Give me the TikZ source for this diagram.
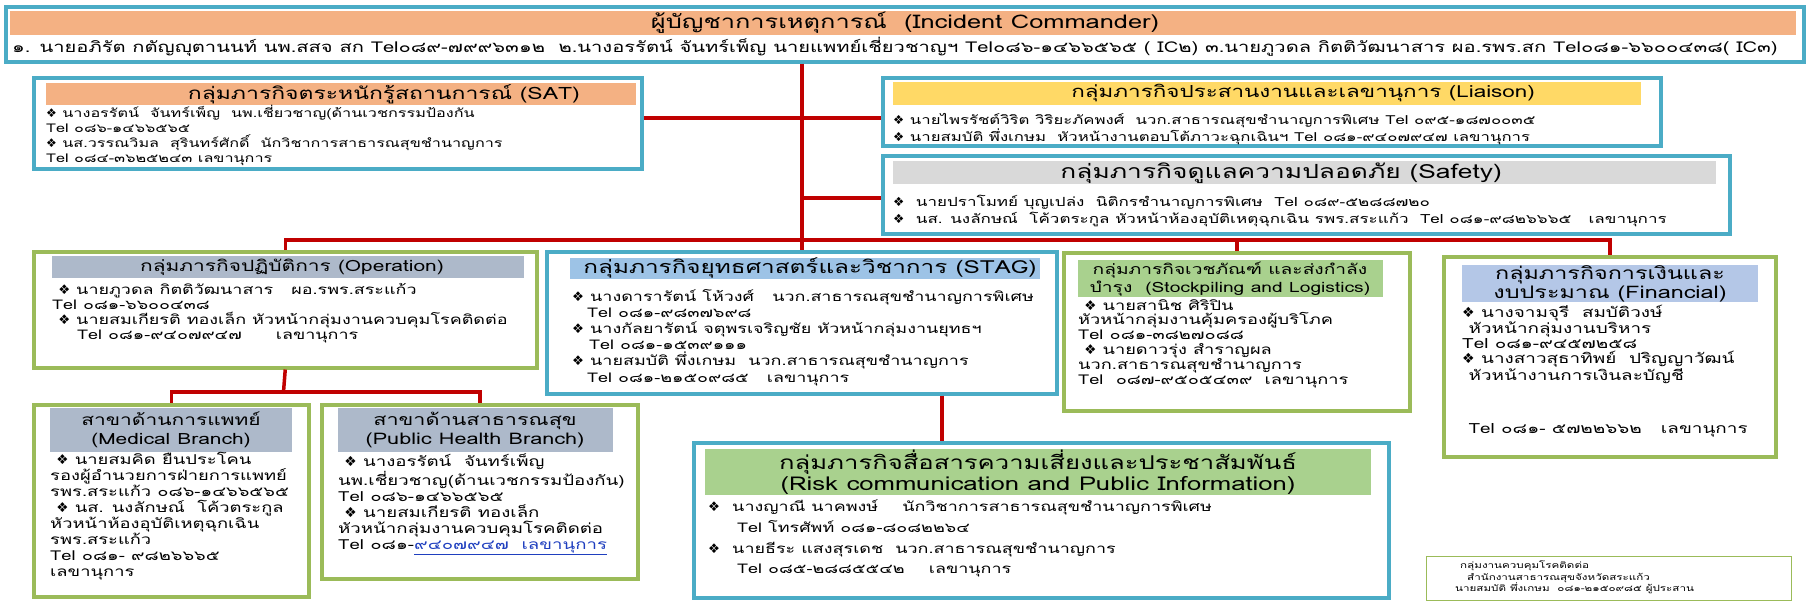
\documentclass[tikz,border=0pt]{standalone}
\usepackage{fontspec}
\newfontfamily\thaifont[Script=Thai,FakeStretch=1.35]{Loma}
\newfontfamily\symfont{DejaVu Sans}
\newcommand{\bul}{{\symfont\char"2756}}
\newcommand{\fs}[2]{\thaifont\fontsize{#1}{#2}\selectfont}
\definecolor{frameteal}{HTML}{4BACC6}
\definecolor{framegreen}{HTML}{9BBB59}
\definecolor{linkred}{HTML}{C00000}
\definecolor{bandorange}{HTML}{F4B183}
\definecolor{bandyellow}{HTML}{FFD966}
\definecolor{bandgray}{HTML}{D9D9D9}
\definecolor{bandslate}{HTML}{ADB9CA}
\definecolor{bandsky}{HTML}{9DC3E6}
\definecolor{bandblue}{HTML}{B4C7E7}
\definecolor{bandgreen}{HTML}{A9D18E}
\definecolor{linkblue}{HTML}{1F3FBF}
\begin{document}
\begin{tikzpicture}[x=1pt,y=-1pt,
  frameT/.style={draw=frameteal,line width=3.5pt,fill=white,anchor=north west,inner sep=0pt},
  frameG/.style={draw=framegreen,line width=3.5pt,fill=white,anchor=north west,inner sep=0pt},
  frameN/.style={draw=framegreen,line width=1pt,fill=white,anchor=north west,inner sep=0pt},
  band/.style={anchor=north west,inner sep=0pt},
  title/.style={inner sep=0pt,align=center,font=\fs{18.5}{21}},
  title2/.style={inner sep=0pt,align=center,font=\fs{16.5}{19}},
  body/.style={anchor=north west,inner sep=0pt,align=left,font=\fs{12.4}{15}},
  link/.style={draw=linkred,line width=3.5pt}]
\fill[white] (0,0) rectangle (1806,606);
\useasboundingbox (0,0) rectangle (1806,606);

\node[frameT,minimum width=1798,minimum height=55] (ic) at (4,5) {};
\node[band,fill=bandorange,minimum width=1786,minimum height=24] (icband) at (10,11) {};
\node[title,font=\fs{18.8}{22}] (ictitle) at (905,23) {ผู้บัญชาการเหตุการณ์ \ (Incident Commander)};
\node[body,anchor=west,font=\fs{14.9}{16}] (ictext) at (12,47) {๑. นายอภิรัต กตัญญุตานนท์ นพ.สสจ สก Tel๐๘๙-๗๙๙๖๓๑๒ \ ๒.นางอรรัตน์ จันทร์เพ็ญ นายแพทย์เชี่ยวชาญฯ Tel๐๘๖-๑๔๖๖๕๖๕ ( IC๒) ๓.นายภูวดล กิตติวัฒนาสาร ผอ.รพร.สก Tel๐๘๑-๖๖๐๐๔๓๘( IC๓)};

\node[frameT,minimum width=608,minimum height=91] (sat) at (32,76) {};
\node[band,fill=bandorange,minimum width=590,minimum height=22] (satband) at (46,83) {};
\node[title,anchor=east,font=\fs{17}{20}] (sattitle) at (580,94) {กลุ่มภารกิจตระหนักรู้สถานการณ์ (SAT)};
\node[body,font=\fs{12}{15}] (sattext) at (46,105) {\bul\ นางอรรัตน์ \ จันทร์เพ็ญ \ นพ.เชี่ยวชาญ(ด้านเวชกรรมป้องกัน\\
Tel ๐๘๖-๑๔๖๖๕๖๕\\
\bul\ นส.วรรณวิมล \ สุรินทร์ศักดิ์ \ นักวิชาการสาธารณสุขชำนาญการ\\
Tel ๐๘๔-๓๖๒๕๒๔๓ เลขานุการ};

\node[frameT,minimum width=778,minimum height=68] (liai) at (881,76) {};
\node[band,fill=bandyellow,minimum width=748,minimum height=23] (liaiband) at (893,82) {};
\node[title,anchor=east,font=\fs{16.6}{20}] (liaititle) at (1535,93) {กลุ่มภารกิจประสานงานและเลขานุการ (Liaison)};
\node[body] (liaitext) at (893,113) {\bul\ นายไพรรัชต์วิริต วิริยะภัคพงศ์ \ นวก.สาธารณสุขชำนาญการพิเศษ Tel ๐๙๕-๑๘๗๐๐๓๕\\
\bul\ นายสมบัติ พึ่งเกษม \ หัวหน้างานตอบโต้ภาวะฉุกเฉินฯ Tel ๐๘๑-๙๔๐๗๙๔๗ เลขานุการ};

\node[frameT,minimum width=847,minimum height=78] (safe) at (881,154) {};
\node[band,fill=bandgray,minimum width=823,minimum height=23] (safeband) at (893,161) {};
\node[title,anchor=east,font=\fs{19.5}{21}] (safetitle) at (1502,173) {กลุ่มภารกิจดูแลความปลอดภัย (Safety)};
\node[body,font=\fs{12.6}{17}] (safetext) at (893,195) {\bul\ \ นายปราโมทย์ บุญเปล่ง \ นิติกรชำนาญการพิเศษ \ Tel ๐๘๙-๕๒๘๘๗๒๐\\
\bul\ \ นส. นงลักษณ์ \ โค้วตระกูล หัวหน้าห้องอุบัติเหตุฉุกเฉิน รพร.สระแก้ว \ Tel ๐๘๑-๙๘๒๖๖๖๕ \ \ เลขานุการ};

\node[frameG,minimum width=503,minimum height=116] (op) at (32,250) {};
\node[band,fill=bandslate,minimum width=472,minimum height=22] (opband) at (52,256) {};
\node[title,font=\fs{15.5}{18}] (optitle) at (292,267) {กลุ่มภารกิจปฏิบัติการ (Operation)};
\node[body,font=\fs{13.3}{15}] (optext) at (52,283) {\ \bul\ นายภูวดล กิตติวัฒนาสาร \ \ ผอ.รพร.สระแก้ว\\
Tel ๐๘๑-๖๖๐๐๔๓๘\\
\ \bul\ นายสมเกียรติ ทองเล็ก หัวหน้ากลุ่มงานควบคุมโรคติดต่อ\\
\hspace*{25pt}Tel ๐๘๑-๙๔๐๗๙๔๗ \hspace*{22pt} เลขานุการ};

\node[frameT,minimum width=510,minimum height=142] (stag) at (545,250) {};
\node[band,fill=bandsky,minimum width=470,minimum height=21] (stagband) at (570,258) {};
\node[title,font=\fs{18}{21}] (stagtitle) at (810,268) {กลุ่มภารกิจยุทธศาสตร์และวิชาการ (STAG)};
\node[body,font=\fs{13.3}{16.2}] (stagtext) at (572,289) {\bul\ นางดารารัตน์ โห้วงศ์ \ \ นวก.สาธารณสุขชำนาญการพิเศษ\\
\hspace*{15pt}Tel ๐๘๑-๙๘๓๗๖๙๘\\
\bul\ นางกัลยารัตน์ จตุพรเจริญชัย หัวหน้ากลุ่มงานยุทธฯ\\
\hspace*{17pt}Tel ๐๘๑-๑๕๓๙๑๑๑\\
\bul\ นายสมบัติ พึ่งเกษม \ นวก.สาธารณสุขชำนาญการ\\
\hspace*{15pt}Tel ๐๘๑-๒๑๕๐๙๘๕ \ \ เลขานุการ};

\node[frameG,minimum width=346,minimum height=158] (stock) at (1062,251) {};
\node[band,fill=bandgreen,minimum width=305,minimum height=37] (stockband) at (1078,260) {};
\node[title2,font=\fs{14.2}{18}] (stocktitle) at (1230,279) {กลุ่มภารกิจเวชภัณฑ์ และส่งกำลัง\\บำรุง \ (Stockpiling and Logistics)};
\node[body,font=\fs{13.5}{14.8}] (stocktext) at (1078,299) {\ \bul\ นายสานิช ศิริปิน\\
หัวหน้ากลุ่มงานคุ้มครองผู้บริโภค\\
Tel ๐๘๑-๓๘๒๗๐๘๘\\
\ \bul\ นายดาวรุ่ง สำราญผล\\
นวก.สาธารณสุขชำนาญการ\\
Tel \ ๐๘๗-๙๕๐๕๔๓๙ \ เลขานุการ};

\node[frameG,minimum width=332,minimum height=200] (fin) at (1442,255) {};
\node[band,fill=bandblue,minimum width=296,minimum height=37] (finband) at (1462,265) {};
\node[title2,font=\fs{17.3}{19}] (fintitle) at (1610,284) {กลุ่มภารกิจการเงินและ\\งบประมาณ (Financial)};
\node[body,font=\fs{14}{15}] (fintext) at (1462,305) {\bul\ นางจามจุรี \ สมบัติวงษ์\\
\ หัวหน้ากลุ่มงานบริหาร\\
Tel ๐๘๑-๙๔๕๗๒๕๘\\
\bul\ นางสาวสุธาทิพย์ \ ปริญญาวัฒน์\\
\ หัวหน้างานการเงินละบัญชี\\[38pt]
\ Tel ๐๘๑- ๕๗๒๒๖๖๒ \ \ เลขานุการ};

\node[frameG,minimum width=275,minimum height=192] (med) at (32,403) {};
\node[band,fill=bandslate,minimum width=242,minimum height=44] (medband) at (50,408) {};
\node[title2,font=\fs{15.5}{19}] (medtitle) at (171,430) {สาขาด้านการแพทย์\\(Medical Branch)};
\node[body,font=\fs{13.6}{16}] (medtext) at (50,452) {\ \bul\ นายสมคิด ยืนประโคน\\
รองผู้อำนวยการฝ่ายการแพทย์\\
รพร.สระแก้ว ๐๘๖-๑๔๖๖๕๖๕\\
\ \bul\ นส. นงลักษณ์ \ โค้วตระกูล\\
หัวหน้าห้องอุบัติเหตุฉุกเฉิน\\
รพร.สระแก้ว\\
Tel ๐๘๑- ๙๘๒๖๖๖๕\\
เลขานุการ};

\node[frameG,minimum width=316,minimum height=174] (ph) at (320,403) {};
\node[band,fill=bandslate,minimum width=275,minimum height=44] (phband) at (338,408) {};
\node[title2,font=\fs{16}{19}] (phtitle) at (475,430) {สาขาด้านสาธารณสุข\\(Public Health Branch)};
\node[body,font=\fs{13.8}{16}] (phtext) at (338,454) {\ \bul\ นางอรรัตน์ \ จันทร์เพ็ญ\\
นพ.เชี่ยวชาญ(ด้านเวชกรรมป้องกัน)\\
Tel ๐๘๖-๑๔๖๖๕๖๕\\
\ \bul\ นายสมเกียรติ ทองเล็ก\\
หัวหน้ากลุ่มงานควบคุมโรคติดต่อ\\
Tel ๐๘๑-\textcolor{linkblue}{\underline{๙๔๐๗๙๔๗ \ เลขานุการ}}};

\node[frameT,minimum width=695,minimum height=155] (risk) at (692,441) {};
\node[band,fill=bandgreen,minimum width=666,minimum height=46] (riskband) at (705,449) {};
\node[title2,font=\fs{19}{21}] (risktitle) at (1038,472) {กลุ่มภารกิจสื่อสารความเสี่ยงและประชาสัมพันธ์\\(Risk communication and Public Information)};
\node[body,font=\fs{13.3}{20.7}] (risktext) at (708,500) {\bul\ \ นางญาณี นาคพงษ์ \ \ \ นักวิชาการสาธารณสุขชำนาญการพิเศษ\\
\hspace*{29pt}Tel โทรศัพท์ ๐๘๑-๘๐๘๒๒๖๔\\
\bul\ \ นายธีระ แสงสุรเดช \ นวก.สาธารณสุขชำนาญการ\\
\hspace*{29pt}Tel ๐๘๕-๒๘๘๕๕๔๒ \ \ \ เลขานุการ};

\node[frameN,minimum width=365,minimum height=44] (note) at (1426,556) {};
\node[body,font=\fs{8.6}{11.5}] (notetext) at (1455,561) {\hspace*{5pt}กลุ่มงานควบคุมโรคติดต่อ\\
\hspace*{12pt}สำนักงานสาธารณสุขจังหวัดสระแก้ว\\
นายสมบัติ พึ่งเกษม \ ๐๘๑-๒๑๕๐๙๘๕ ผู้ประสาน};

\coordinate (jsat) at (800,118);
\coordinate (jsafe) at (800,198);
\coordinate (jrow) at (800,240);
\coordinate (jbr) at (283.5,392);
\coordinate (jrisk) at (942,420);
\draw[link] (stag.north |- ic.south) -- (stag.north);
\draw[link] (sat.east |- jsat) -- (liai.west |- jsat);
\draw[link] (jsafe) -- (safe.west |- jsafe);
\draw[link] (op.north) -- (op.north |- jrow) -- (fin.north |- jrow) -- (fin.north);
\draw[link] (stock.north |- jrow) -- (stock.north);
\draw[link] (op.south) -- (jbr);
\draw[link] (med.north) |- (jbr) -| (ph.north);
\draw[link] (stag.south -| jrisk) -- (risk.north -| jrisk);
\end{tikzpicture}
\end{document}
